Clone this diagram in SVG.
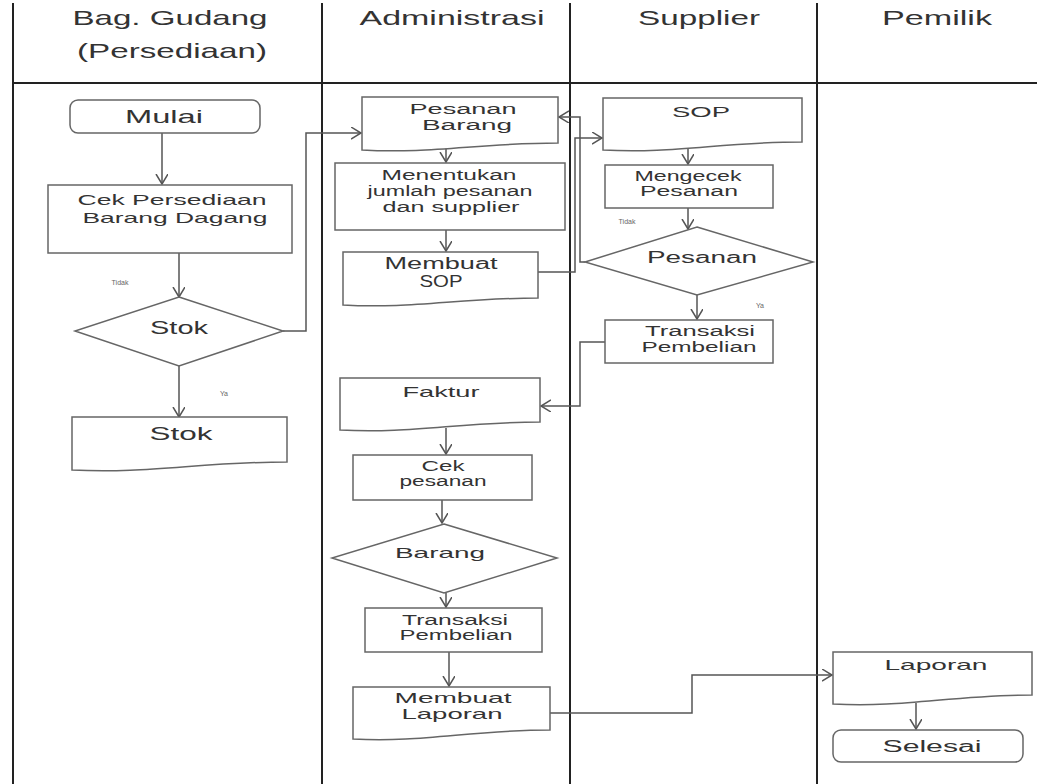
<svg xmlns="http://www.w3.org/2000/svg" width="1037" height="784" viewBox="0 0 1037 784">
<style>
.lane{stroke:#222;stroke-width:2;fill:none}
.sh{fill:#fff;stroke:#666;stroke-width:1.5}
.cn{fill:none;stroke:#555;stroke-width:1.5}
text{font-family:"Liberation Sans",Arial,sans-serif;fill:#333;text-anchor:middle}
.hd{font-size:21px}
.t14{font-size:14px}
.t15{font-size:15px}
.t16{font-size:16px}
.t18{font-size:19px}
.sm{font-size:7px;fill:#666}
</style>
<defs>
<marker id="ar" markerUnits="userSpaceOnUse" markerWidth="14" markerHeight="14" refX="10" refY="6" orient="auto">
<path d="M0,0 L10,6 L0,12" fill="none" stroke="#555" stroke-width="1.5"/>
</marker>
</defs>
<rect width="1037" height="784" fill="#fff"/>
<g id="lanes">
<line class="lane" x1="13" y1="3" x2="13" y2="784"/>
<line class="lane" x1="322" y1="3" x2="322" y2="784"/>
<line class="lane" x1="570" y1="3" x2="570" y2="784"/>
<line class="lane" x1="817" y1="3" x2="817" y2="784"/>
<line class="lane" x1="13" y1="83" x2="1037" y2="83"/>
<text class="hd" x="170" y="25" textLength="195" lengthAdjust="spacingAndGlyphs">Bag. Gudang</text>
<text class="hd" x="172" y="58" textLength="190" lengthAdjust="spacingAndGlyphs">(Persediaan)</text>
<text class="hd" x="452" y="25" textLength="185" lengthAdjust="spacingAndGlyphs">Administrasi</text>
<text class="hd" x="699" y="25" textLength="122" lengthAdjust="spacingAndGlyphs">Supplier</text>
<text class="hd" x="937" y="25" textLength="110" lengthAdjust="spacingAndGlyphs">Pemilik</text>
</g>
<g id="connectors">
<path class="cn" marker-end="url(#ar)" d="M162,133 V184"/>
<path class="cn" marker-end="url(#ar)" d="M179,253 V297"/>
<path class="cn" marker-end="url(#ar)" d="M179,366 V417"/>
<path class="cn" marker-end="url(#ar)" d="M283,331 H306 V133 H361"/>
<path class="cn" marker-end="url(#ar)" d="M446,148 V162"/>
<path class="cn" marker-end="url(#ar)" d="M446,230 V251"/>
<path class="cn" marker-end="url(#ar)" d="M538,272 H575 V138 H602"/>
<path class="cn" marker-end="url(#ar)" d="M688,148 V164"/>
<path class="cn" marker-end="url(#ar)" d="M688,208 V229"/>
<path class="cn" marker-end="url(#ar)" d="M585,262 H580 V117 H559"/>
<path class="cn" marker-end="url(#ar)" d="M697,295 V319"/>
<path class="cn" marker-end="url(#ar)" d="M605,342 H580 V406 H541"/>
<path class="cn" marker-end="url(#ar)" d="M446,428 V454"/>
<path class="cn" marker-end="url(#ar)" d="M442,500 V523"/>
<path class="cn" marker-end="url(#ar)" d="M446,593 V607"/>
<path class="cn" marker-end="url(#ar)" d="M449,652 V686"/>
<path class="cn" marker-end="url(#ar)" d="M550,713 H692 V675 H832"/>
<path class="cn" marker-end="url(#ar)" d="M916,703 V729"/>
<text class="sm" x="120" y="285">Tidak</text>
<text class="sm" x="224" y="396">Ya</text>
<text class="sm" x="627" y="224">Tidak</text>
<text class="sm" x="760" y="308">Ya</text>
</g>
<g id="mulai">
<rect class="sh" x="70" y="100" width="190" height="33" rx="8"/>
<text class="t18" x="164" y="123" textLength="78" lengthAdjust="spacingAndGlyphs">Mulai</text>
</g>
<g id="cek-persediaan">
<rect class="sh" x="48" y="185" width="244" height="68"/>
<text class="t15" x="172" y="205" textLength="189" lengthAdjust="spacingAndGlyphs">Cek Persediaan</text>
<text class="t15" x="175" y="223" textLength="185" lengthAdjust="spacingAndGlyphs">Barang Dagang</text>
</g>
<g id="stok-decision">
<polygon class="sh" points="179,297 283,331 179,366 75,331"/>
<text class="t18" x="179" y="334" textLength="58" lengthAdjust="spacingAndGlyphs">Stok</text>
</g>
<g id="stok-doc">
<path class="sh" d="M72,417 H287 V462 C201,462 147,474 72,470 Z"/>
<text class="t18" x="181" y="440" textLength="63" lengthAdjust="spacingAndGlyphs">Stok</text>
</g>
<g id="pesanan-barang">
<path class="sh" d="M362,97 H558 V143 C480,143 431,154 362,150 Z"/>
<text class="t14" x="463" y="114" textLength="107" lengthAdjust="spacingAndGlyphs">Pesanan</text>
<text class="t14" x="467" y="130" textLength="90" lengthAdjust="spacingAndGlyphs">Barang</text>
</g>
<g id="menentukan">
<rect class="sh" x="335" y="163" width="230" height="67"/>
<text class="t14" x="449" y="180" textLength="135" lengthAdjust="spacingAndGlyphs">Menentukan</text>
<text class="t14" x="450" y="196" textLength="165" lengthAdjust="spacingAndGlyphs">jumlah pesanan</text>
<text class="t14" x="451" y="212" textLength="137" lengthAdjust="spacingAndGlyphs">dan supplier</text>
</g>
<g id="membuat-sop">
<path class="sh" d="M343,252 H538 V298 C460,298 411,309 343,305 Z"/>
<text class="t16" x="441" y="269" textLength="113" lengthAdjust="spacingAndGlyphs">Membuat</text>
<text class="t16" x="441" y="287" textLength="43" lengthAdjust="spacingAndGlyphs">SOP</text>
</g>
<g id="sop">
<path class="sh" d="M603,98 H802 V142 C722,142 673,154 603,150 Z"/>
<text class="t15" x="701" y="117" textLength="58" lengthAdjust="spacingAndGlyphs">SOP</text>
</g>
<g id="mengecek">
<rect class="sh" x="605" y="165" width="168" height="43"/>
<text class="t14" x="688" y="181" textLength="107" lengthAdjust="spacingAndGlyphs">Mengecek</text>
<text class="t14" x="689" y="196" textLength="98" lengthAdjust="spacingAndGlyphs">Pesanan</text>
</g>
<g id="pesanan-decision">
<polygon class="sh" points="697,227 813,262 697,295 585,262"/>
<text class="t16" x="702" y="263" textLength="110" lengthAdjust="spacingAndGlyphs">Pesanan</text>
</g>
<g id="transaksi-supplier">
<rect class="sh" x="605" y="320" width="168" height="43"/>
<text class="t14" x="700" y="336" textLength="110" lengthAdjust="spacingAndGlyphs">Transaksi</text>
<text class="t14" x="699" y="352" textLength="115" lengthAdjust="spacingAndGlyphs">Pembelian</text>
</g>
<g id="faktur">
<path class="sh" d="M340,378 H540 V422 C460,422 410,434 340,430 Z"/>
<text class="t15" x="441" y="397" textLength="77" lengthAdjust="spacingAndGlyphs">Faktur</text>
</g>
<g id="cek-pesanan">
<rect class="sh" x="353" y="455" width="179" height="45"/>
<text class="t14" x="443" y="471" textLength="43" lengthAdjust="spacingAndGlyphs">Cek</text>
<text class="t14" x="443" y="486" textLength="87" lengthAdjust="spacingAndGlyphs">pesanan</text>
</g>
<g id="barang-decision">
<polygon class="sh" points="444,524 557,558 444,593 332,558"/>
<text class="t15" x="440" y="558" textLength="90" lengthAdjust="spacingAndGlyphs">Barang</text>
</g>
<g id="transaksi-admin">
<rect class="sh" x="365" y="608" width="177" height="44"/>
<text class="t14" x="455" y="625" textLength="106" lengthAdjust="spacingAndGlyphs">Transaksi</text>
<text class="t14" x="456" y="640" textLength="113" lengthAdjust="spacingAndGlyphs">Pembelian</text>
</g>
<g id="membuat-laporan">
<path class="sh" d="M353,687 H550 V730 C471,730 421,743 353,739 Z"/>
<text class="t15" x="453" y="703" textLength="117" lengthAdjust="spacingAndGlyphs">Membuat</text>
<text class="t15" x="452" y="719" textLength="101" lengthAdjust="spacingAndGlyphs">Laporan</text>
</g>
<g id="laporan">
<path class="sh" d="M833,652 H1032 V695 C952,695 903,708 833,704 Z"/>
<text class="t15" x="936" y="670" textLength="103" lengthAdjust="spacingAndGlyphs">Laporan</text>
</g>
<g id="selesai">
<rect class="sh" x="833" y="730" width="190" height="32" rx="8"/>
<text class="t16" x="932" y="752" textLength="99" lengthAdjust="spacingAndGlyphs">Selesai</text>
</g>
</svg>
